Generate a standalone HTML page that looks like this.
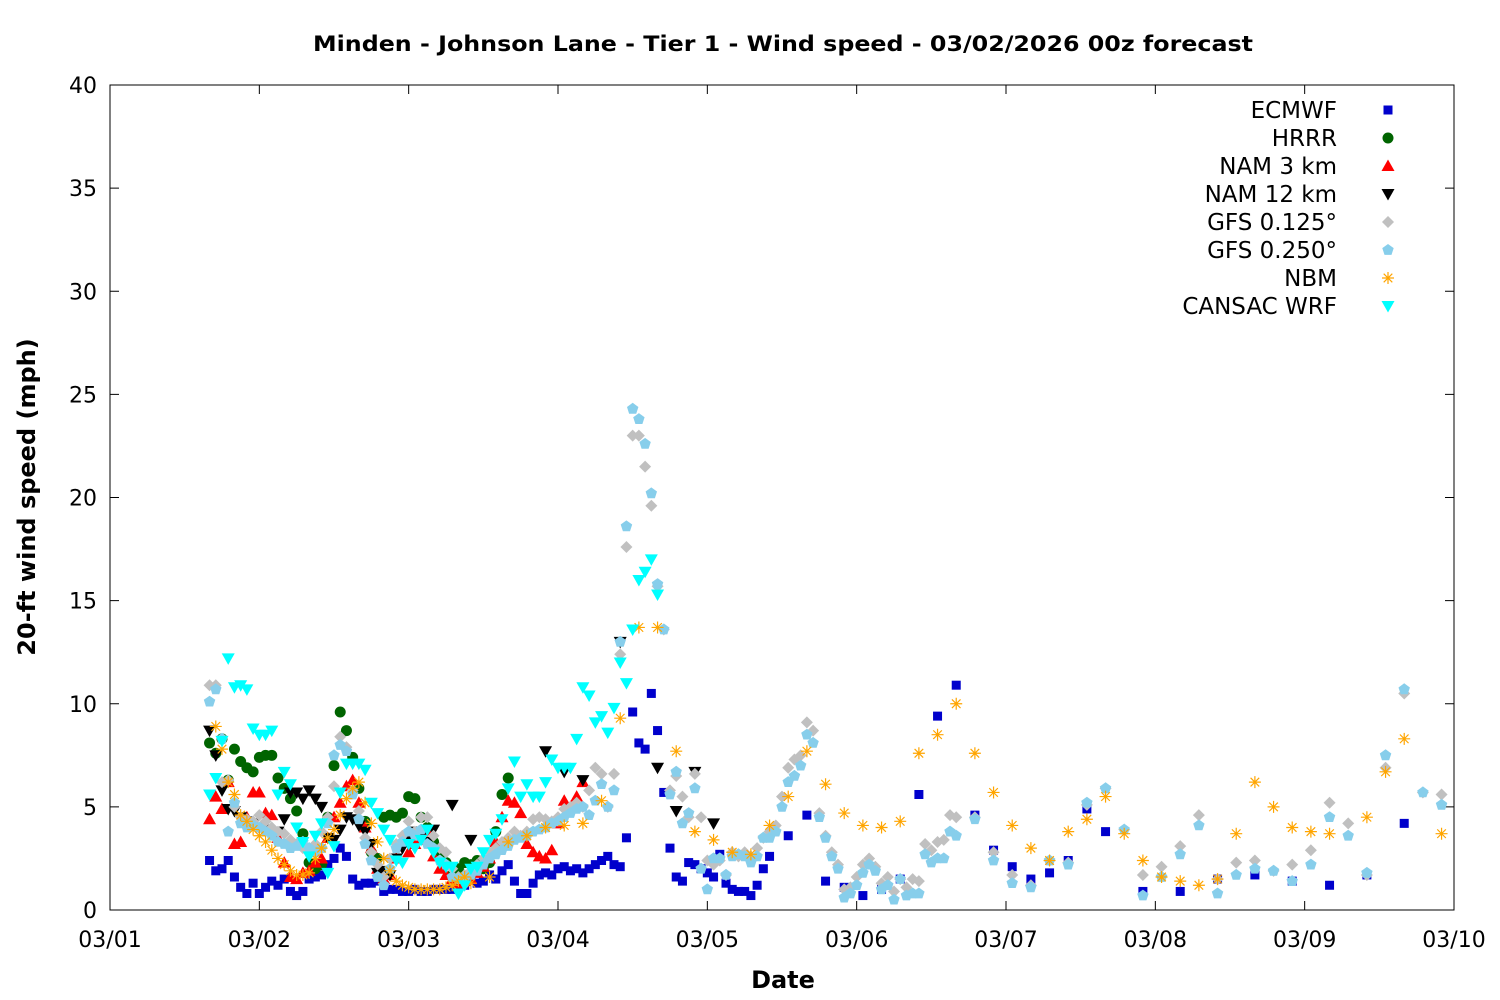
<!DOCTYPE html>
<html><head><meta charset="utf-8">
<style>
html,body{margin:0;padding:0;background:#fff;}
svg{display:block;font-family:"DejaVu Sans","Liberation Sans",sans-serif;}
</style></head>
<body>
<svg id="chart" width="1500" height="1000" viewBox="0 0 1500 1000" xmlns="http://www.w3.org/2000/svg">
<rect x="0" y="0" width="1500" height="1000" fill="#fff"/>
<text x="783" y="51" text-anchor="middle" font-size="21" font-weight="bold" textLength="940" lengthAdjust="spacingAndGlyphs">Minden - Johnson Lane - Tier 1 - Wind speed - 03/02/2026 00z forecast</text>
<text x="0" y="0" transform="translate(35,497) rotate(-90)" text-anchor="middle" font-size="24" font-weight="bold">20-ft wind speed (mph)</text>
<text x="783" y="988" text-anchor="middle" font-size="24" font-weight="bold">Date</text>
<g id="axes"></g>
<g id="marks"></g>
<g id="legend"></g>
<rect x="110" y="85" width="1344" height="825" fill="none" stroke="#000" stroke-width="1"/>
</svg>
<script>
// ---- data (hours since 03/01 00z, wind speed mph) ----
const xTickLabels = ["03/01","03/02","03/03","03/04","03/05","03/06","03/07","03/08","03/09","03/10"];
const yTickValues = [0,5,10,15,20,25,30,35,40];
const seriesNames = ["ECMWF","HRRR","NAM 3 km","NAM 12 km","GFS 0.125°","GFS 0.250°","NBM","CANSAC WRF"];

const ecmwfHourly = [2.4,1.9,2.0,2.4,1.6,1.1,0.8,1.3,0.8,1.1, 1.4,1.2,1.5,0.9,0.7,0.9,1.5,1.6,1.7,2.2, 2.5,3.0,2.6,1.5,1.2,1.3,1.3,1.4,0.9,1.0, 1.0,0.9,0.9,1.0,0.9,0.9,1.0,1.0,1.0,1.0, 1.1,1.2,1.5,1.3,1.4,1.7,1.5,1.9,2.2,1.4, 0.8,0.8,1.3,1.7,1.8,1.7,2.0,2.1,1.9,2.0, 1.8,2.0,2.2,2.4,2.6,2.2,2.1,3.5,9.6,8.1, 7.8,10.5,8.7,5.7,3.0,1.6,1.4,2.3,2.2,2.0, 1.8,1.6,2.7,1.3,1.0,0.9,0.9,0.7,1.2,2.0,2.6];
const ecmwf3h = [3.6,4.6,1.4,1.1,0.7,1.0,1.5,5.6,9.4,10.9,4.6,2.9,2.1,1.5,1.8,2.4,4.9,3.8];
const ecmwf6h = [0.9,0.9,1.5,1.7,1.4,1.2,1.7,4.2];

const hrrrHourly = [8.1,7.6,8.3,6.3,7.8,7.2,6.9,6.7,7.4,7.5, 7.5,6.4,5.9,5.4,4.8,3.7,2.3,2.0,2.2,4.5, 7.0,9.6,8.7,7.4,5.9,4.3,2.8,2.5,4.5,4.6, 4.5,4.7,5.5,5.4,4.5,4.0,3.3,2.7,2.3,1.7, 2.0,2.3,2.2,2.4,2.0,2.3,3.8,5.6,6.4];

const nam3Hourly = [4.4,5.5,4.9,6.2,3.2,3.3,4.5,5.7,5.7,4.7, 4.6,3.5,2.3,1.6,1.5,1.8,1.9,2.3,2.5,3.5, 4.5,5.2,6.0,6.3,5.2,4.0,3.0,2.0,1.5,1.7, 2.5,3.3,2.8,3.2,3.4,3.8,2.6,2.0,1.7,1.5, 1.3,1.4,1.5,1.8,2.1,2.5,3.3,4.5,5.3,5.2, 4.7,3.2,2.8,2.6,2.5,2.9,4.2,5.3,5.0,5.5, 6.2];

const nam12Hourly = [8.7,7.5,5.8,4.9,4.8,4.5,4.3,4.2,4.0,3.9, 3.7,3.8,4.4,5.7,5.7,5.4,5.8,5.4,5.0,3.5, 3.4,3.9,4.5,4.4,4.1,3.8,3.2,1.8,1.9,1.7, 2.5,3.0,3.5,3.8,3.6,3.3,3.9];
const nam12Threeh = [5.1,3.4,null,null,null,7.7,6.7,6.3,null,13.0,null,6.9,4.8,6.7,4.2];

const gfs125Hourly = [10.9,10.9,6.2,6.3,5.0,4.5,4.4,4.3,4.6,4.3, 4.0,3.8,3.7,3.4,3.2,3.0,3.0,3.2,3.8,4.5, 6.0,8.4,7.9,5.8,4.8,3.5,2.8,2.2,1.6,2.5, 3.2,3.6,4.3,3.8,4.5,4.5,3.6,3.0,2.8,2.0, 1.6,1.7,1.9,2.2,2.5,2.8,3.0,3.3,3.5,3.8, 3.6,3.8,4.4,4.5,4.4,4.3,4.5,4.9,5.0,5.2, 5.0,5.8,6.9,6.6,5.0,6.6,12.4,17.6,23.0,23.0, 21.5,19.6,15.7,13.6,5.8,6.5,5.5,4.5,6.6,4.5, 2.4,2.2,2.4,1.7,2.8,2.6,2.8,2.6,3.0,3.5, 3.8,4.1,5.5,6.9,7.3,7.5,9.1,8.7,4.7,3.6, 2.8,2.2,1.0,1.1,1.6,2.2,2.5,2.1,1.3,1.6, 0.9,1.5,1.1,1.5,1.4,3.2,2.9,3.3,3.4,4.6,4.5];
const gfs125Threeh = [4.5,2.8,1.7,1.2,2.4,2.3,5.1,5.9,3.9,1.7,2.1,3.1,4.6,1.5,2.3,2.4,1.9,2.2,2.9,5.2,4.2,1.7,6.9,10.5,5.7,5.6];

const gfs25Hourly = [10.1,10.7,8.3,3.8,5.2,4.2,4.0,4.1,4.0,3.8, 3.6,3.3,3.2,3.0,3.1,3.3,3.0,2.8,3.0,4.2, 7.5,8.0,7.7,5.6,4.4,3.2,2.4,1.6,1.2,2.0, 3.0,3.3,3.8,3.6,3.9,3.2,3.0,2.4,2.2,1.6, 1.5,1.6,1.7,1.9,2.2,2.5,2.7,2.9,3.1,3.4, 3.5,3.6,3.8,3.9,4.0,4.2,4.3,4.5,4.7,4.9, 5.0,4.6,5.3,6.1,5.0,5.8,13.0,18.6,24.3,23.8, 22.6,20.2,15.8,13.6,5.6,6.7,4.2,4.7,5.9,2.0, 1.0,2.5,2.5,1.7,2.6,2.7,2.6,2.3,2.6,3.5, 3.5,3.8,5.0,6.2,6.5,7.0,8.5,8.1,4.5,3.5, 2.6,2.0,0.6,0.8,1.2,1.8,2.2,1.9,1.0,1.2, 0.5,1.5,0.7,0.8,0.8,2.7,2.3,2.5,2.5,3.8,3.6];
const gfs25Threeh = [4.4,2.4,1.3,1.1,2.4,2.2,5.2,5.9,3.9,0.7,1.6,2.7,4.1,0.8,1.7,2.0,1.9,1.4,2.2,4.5,3.6,1.8,7.5,10.7,5.7,5.1];

const nbmHourly = [8.9,7.8,6.2,5.6,4.6,4.3,3.9,3.6,3.3,2.9, 2.5,2.2,1.9,1.7,1.7,1.8,2.5,3.0,3.5,3.9, 4.6,5.4,5.9,6.2,5.2,4.2,3.3,2.5,1.9,1.4, 1.2,1.1,1.0,1.0,1.0,1.0,1.0,1.1,1.2,1.4, 1.6];
const nbmThreeh = [1.3,1.6,3.3,3.6,4.0,4.1,4.2,5.3,9.3,13.7, 13.7,7.7,3.8,3.4,2.8,2.7,4.1,5.5,7.7,6.1, 4.7,4.1,4.0,4.3,7.6,8.5,10.0,7.6,5.7,4.1, 3.0,2.4,3.8,4.4,5.5,3.7,2.4,1.6,1.4,1.2, 1.5,3.7,6.2,5.0,4.0,3.8,3.7,null,4.5,6.7, 8.3,null,3.7];

const cansacHourly = [5.6,6.4,8.2,12.2,10.8,10.9,10.7,8.8,8.5,8.5, 8.7,5.6,6.7,6.1,4.0,3.3,2.6,3.6,4.2,1.8, 3.1,5.7,7.1,7.1,7.1,6.8,5.2,4.7,3.9,3.4, 2.4,2.3,3.2,3.0,3.4,3.9,2.8,2.3,2.1,2.1, 0.8,1.2,2.0,2.1,2.8,3.4,3.7,4.4,5.9,7.2, 5.5,6.1,5.5,5.5,6.2,7.3,6.9,6.9,6.9,8.3, 10.8,10.4,9.1,9.4,8.6,9.8,12.0,11.0,13.6,16.0, 16.4,17.0,15.3];

// ---- axis functions ----
const X0=110, X1=1454, Y0=910, Y1=85;
const xScale = h => X0 + h/(24*9)*(X1-X0);
const yScale = v => Y0 - v/40*(Y0-Y1);
const NS="http://www.w3.org/2000/svg";
function mk(tag, attrs, parent){const e=document.createElementNS(NS,tag);for(const k in attrs)e.setAttribute(k,attrs[k]);parent.appendChild(e);return e;}

const axes=document.getElementById('axes');
yTickValues.forEach(v=>{
  const y=yScale(v);
  const t1=mk('line',{x1:X0,x2:X0+9,y1:y,y2:y,stroke:'#000'},axes);
  
  
  mk('line',{x1:X1-9,x2:X1,y1:y,y2:y,stroke:'#000'},axes);
  const tx=mk('text',{x:X0-13,y:y+8,'text-anchor':'end','font-size':22},axes);
  tx.textContent=v;
  
  
});
xTickLabels.forEach((lab,i)=>{
  const x=xScale(i*24);
  const t1=mk('line',{x1:x,x2:x,y1:Y0,y2:Y0-9,stroke:'#000'},axes);
  
  
  mk('line',{x1:x,x2:x,y1:Y1,y2:Y1+9,stroke:'#000'},axes);
  const tx=mk('text',{x:x,y:947,'text-anchor':'middle','font-size':22},axes);
  tx.textContent=lab;
  
  
});

// ---- markers ----
function marker(type,color,x,y,parent){
  let e;
  if(type==='square'){e=mk('rect',{x:x-4.5,y:y-4.5,width:9,height:9,fill:color},parent);}
  else if(type==='circle'){e=mk('circle',{cx:x,cy:y,r:5.5,fill:color},parent);}
  else if(type==='up'){e=mk('polygon',{points:`${x},${y-6.5} ${x-6.5},${y+5} ${x+6.5},${y+5}`,fill:color},parent);}
  else if(type==='down'){e=mk('polygon',{points:`${x},${y+6.5} ${x-6.5},${y-5} ${x+6.5},${y-5}`,fill:color},parent);}
  else if(type==='diamond'){e=mk('polygon',{points:`${x},${y-6} ${x+6},${y} ${x},${y+6} ${x-6},${y}`,fill:color},parent);}
  else if(type==='pent'){let p=[];for(let k=0;k<5;k++){const a=-Math.PI/2+k*2*Math.PI/5;p.push((x+6*Math.cos(a)).toFixed(1)+','+(y+6*Math.sin(a)).toFixed(1));}e=mk('polygon',{points:p.join(' '),fill:color},parent);}
  else if(type==='star'){e=mk('path',{d:`M${x-6},${y}H${x+6}M${x},${y-6}V${y+6}M${x-4.3},${y-4.3}L${x+4.3},${y+4.3}M${x-4.3},${y+4.3}L${x+4.3},${y-4.3}`,stroke:color,'stroke-width':1.2,fill:'none'},parent);}
  return e;
}

const marks=document.getElementById('marks');
function plotSeg(values,start,step,type,color,name,g){
  values.forEach((v,i)=>{
    if(v===null)return;
    const e=marker(type,color,xScale(start+i*step),yScale(v),g);
    
    
  });
}
const styles=[
 ['square','#0000cc'],['circle','#006400'],['up','#ff0000'],['down','#000000'],
 ['diamond','#c0c0c0'],['pent','#87ceeb'],['star','#ffa500'],['down','#00ffff']
];
const segs=[
 [[ecmwfHourly,16,1],[ecmwf3h,109,3],[ecmwf6h,166,6]],
 [[hrrrHourly,16,1]],
 [[nam3Hourly,16,1]],
 [[nam12Hourly,16,1],[nam12Threeh,55,3]],
 [[gfs125Hourly,16,1],[gfs125Threeh,139,3]],
 [[gfs25Hourly,16,1],[gfs25Threeh,139,3]],
 [[nbmHourly,17,1],[nbmThreeh,58,3]],
 [[cansacHourly,16,1]]
];
const slugs=['ecmwf','hrrr','nam-3km','nam-12km','gfs-0125','gfs-0250','nbm','cansac-wrf'];
segs.forEach((s,i)=>{
  const g=mk('g',{},marks);
  
  
  s.forEach(([vals,st,sp])=>plotSeg(vals,st,sp,styles[i][0],styles[i][1],slugs[i],g));
});

// ---- legend ----
const legend=document.getElementById('legend');
seriesNames.forEach((n,i)=>{
  const y=110+i*28;
  const g=mk('g',{},legend);
  
  
  const t=mk('text',{x:1337,y:y+8,'text-anchor':'end','font-size':23},g);
  t.textContent=n;
  marker(styles[i][0],styles[i][1],1388,y,g);
});
</script>
</body></html>
